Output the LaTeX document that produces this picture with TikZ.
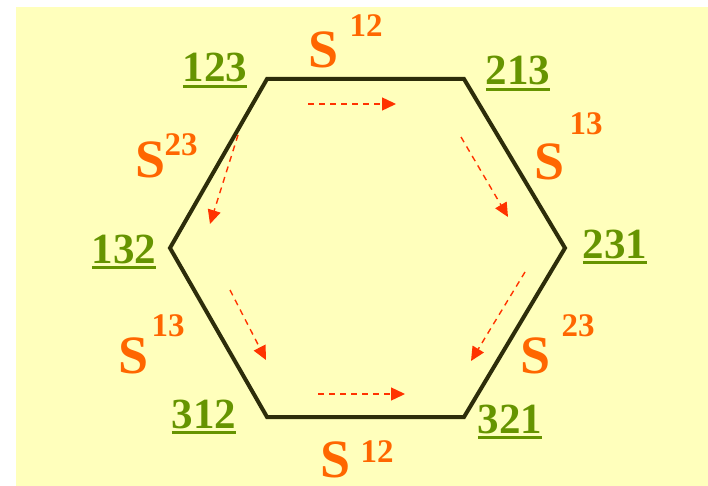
\documentclass[tikz,border=0pt]{standalone}
\usepackage{fontspec}
\setmainfont{Liberation Serif}
\usetikzlibrary{arrows.meta}
\definecolor{bgyellow}{RGB}{255,255,188}
\definecolor{labgreen}{RGB}{102,148,0}
\definecolor{hexline}{RGB}{45,45,10}
\definecolor{sorange}{RGB}{255,102,0}
\definecolor{arrred}{RGB}{255,51,0}
\newcommand\permlab[1]{\setbox0\hbox{#1}\rlap{\raisebox{-6pt}{\rule{\wd0}{3pt}}}\box0}
\tikzset{
  perm/.style={anchor=base, inner sep=0pt, text=labgreen, font=\fontsize{43}{43}\selectfont\bfseries},
  sbig/.style={anchor=base, inner sep=0pt, text=sorange, font=\fontsize{54}{54}\selectfont\bfseries},
  ssup/.style={anchor=base, inner sep=0pt, text=sorange, font=\fontsize{33}{33}\selectfont\bfseries},
  hexedge/.style={draw=hexline, line width=4pt, line join=miter},
  flow/.style={draw=arrred, line width=1.4pt, dash pattern=on 6pt off 5pt, -{Triangle[length=14pt,width=13pt]}}
}
\begin{document}
\begin{tikzpicture}[x=1pt,y=-1pt]
\useasboundingbox (0,0) rectangle (708,486);
\fill[bgyellow] (16,7) rectangle (708,486);
% hexagon vertices
\coordinate (v123) at (267,79);
\coordinate (v213) at (464,79);
\coordinate (v231) at (565,248);
\coordinate (v321) at (464,417);
\coordinate (v312) at (267,417);
\coordinate (v132) at (170,248);
\draw[hexedge] (v123) -- (v213) -- (v231) -- (v321) -- (v312) -- (v132) -- cycle;
% permutation labels
\node[perm] (l123) at (215,82) {\permlab{123}};
\node[perm] (l213) at (518,85) {\permlab{213}};
\node[perm] (l132) at (124,263) {\permlab{132}};
\node[perm] (l231) at (615,258) {\permlab{231}};
\node[perm] (l312) at (204,428) {\permlab{312}};
\node[perm] (l321) at (510,433) {\permlab{321}};
% S labels
\node[sbig] (s1) at (324,68) {S};
\node[ssup] (s1x) at (366,37) {12};
\node[sbig] (s2) at (151,178) {S};
\node[ssup] (s2x) at (181,156) {23};
\node[sbig] (s3) at (550,180) {S};
\node[ssup] (s3x) at (586,135) {13};
\node[sbig] (s4) at (134,373) {S};
\node[ssup] (s4x) at (168,336) {13};
\node[sbig] (s5) at (536,373) {S};
\node[ssup] (s5x) at (578,336) {23};
\node[sbig] (s6) at (336,477) {S};
\node[ssup] (s6x) at (377,462) {12};
% dashed arrows
\coordinate (a1s) at (308,104); \coordinate (a1e) at (396,104);
\coordinate (a2s) at (238,135); \coordinate (a2e) at (210,224);
\coordinate (a3s) at (461,137); \coordinate (a3e) at (508,217);
\coordinate (a4s) at (230,290); \coordinate (a4e) at (266,360);
\coordinate (a5s) at (525,272); \coordinate (a5e) at (471,361);
\coordinate (a6s) at (318,394); \coordinate (a6e) at (405,394);
\draw[flow] (a1s) -- (a1e);
\draw[flow] (a2s) -- (a2e);
\draw[flow] (a3s) -- (a3e);
\draw[flow] (a4s) -- (a4e);
\draw[flow] (a5s) -- (a5e);
\draw[flow] (a6s) -- (a6e);
\end{tikzpicture}
\end{document}
